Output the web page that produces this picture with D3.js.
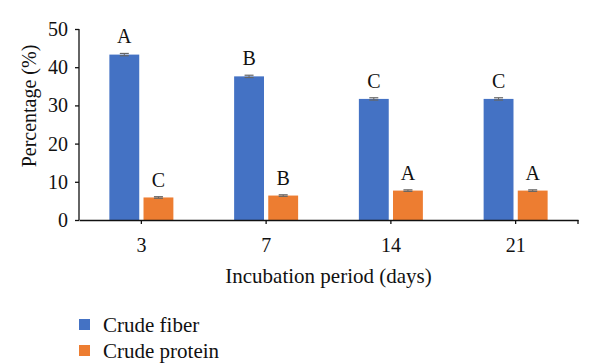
<!DOCTYPE html>
<html>
<head>
<meta charset="utf-8">
<script src="https://cdn.jsdelivr.net/npm/d3@7"></script>
<style>
  body { margin: 0; background: #fff; }
  text { font-family: "Liberation Serif", "Times New Roman", serif; fill: #111; }
</style>
</head>
<body>
<script>
const days = ["3", "7", "14", "21"];
const series = ["Crude fiber", "Crude protein"];
const fiber = [43.3, 37.6, 31.7, 31.7];
const protein = [5.9, 6.4, 7.7, 7.7];
const fiberErr = [0.3, 0.3, 0.3, 0.3];
const proteinErr = [0.2, 0.2, 0.2, 0.2];
const fiberLetters = ["A", "B", "C", "C"];
const proteinLetters = ["C", "B", "A", "A"];
const yTicks = [0, 10, 20, 30, 40, 50];

const colors = ["#4472C4", "#ED7D31"];

const width = 600, height = 364;
const margin = {left: 79, right: 22, top: 29, bottom: 144};

const svg = d3.select("body").append("svg")
    .attr("width", width)
    .attr("height", height);

const x = d3.scaleBand()
    .domain(days)
    .range([margin.left, width - margin.right]);

const inner = d3.scaleBand()
    .domain(series)
    .range([-32, 32])
    .paddingInner(0.125);

const y = d3.scaleLinear()
    .domain([0, 50])
    .range([height - margin.bottom, margin.top]);

const rows = days.map((d, i) => ({
    day: d,
    values: [
        {s: series[0], v: fiber[i], e: fiberErr[i], l: fiberLetters[i], c: colors[0]},
        {s: series[1], v: protein[i], e: proteinErr[i], l: proteinLetters[i], c: colors[1]}
    ]
}));

const groups = svg.selectAll(".group")
    .data(rows)
    .enter().append("g")
    .attr("transform", d => "translate(" + (x(d.day) + x.bandwidth() / 2) + ",0)");

const bars = groups.selectAll(".bar")
    .data(d => d.values)
    .enter().append("g");

bars.append("rect")
    .attr("x", d => inner(d.s))
    .attr("width", inner.bandwidth())
    .attr("y", d => y(d.v))
    .attr("height", d => y(0) - y(d.v))
    .attr("fill", d => d.c);

// error bars
bars.each(function(d) {
    const g = d3.select(this);
    const cx = inner(d.s) + inner.bandwidth() / 2;
    g.append("line")
        .attr("x1", cx).attr("x2", cx)
        .attr("y1", y(d.v + d.e)).attr("y2", y(d.v - d.e))
        .attr("stroke", "#666").attr("stroke-width", 1);
    [d.v + d.e, d.v - d.e].forEach(v => {
        g.append("line")
            .attr("x1", cx - 4.5).attr("x2", cx + 4.5)
            .attr("y1", y(v)).attr("y2", y(v))
            .attr("stroke", "#666").attr("stroke-width", 1.2);
    });
});

bars.append("text")
    .attr("x", d => inner(d.s) + inner.bandwidth() / 2)
    .attr("y", d => y(d.v + d.e) - 10)
    .attr("text-anchor", "middle")
    .attr("font-size", 20)
    .text(d => d.l);

// y axis
const yAxis = svg.append("g")
    .attr("transform", "translate(" + margin.left + ",0)")
    .call(d3.axisLeft(y).tickValues(yTicks).tickSize(4).tickPadding(7));
yAxis.selectAll("text").attr("font-size", 20).style("font-family", "Liberation Serif, serif").attr("fill", "#111");
yAxis.selectAll("line, path").attr("stroke", "#111").attr("stroke-width", 1.3);
yAxis.select(".domain").attr("d", "M0," + y(50) + "V" + y(0));

// x axis
const xAxis = svg.append("g")
    .attr("transform", "translate(0," + y(0) + ")")
    .call(d3.axisBottom(x).tickSize(4).tickPadding(14).tickSizeOuter(0));
xAxis.selectAll("text").attr("font-size", 20).style("font-family", "Liberation Serif, serif").attr("fill", "#111");
xAxis.selectAll("line, path").attr("stroke", "#111").attr("stroke-width", 1.3);
xAxis.append("line")
    .attr("x1", width - margin.right).attr("x2", width - margin.right)
    .attr("y1", 0).attr("y2", 4)
    .attr("stroke", "#111").attr("stroke-width", 1.3);

svg.append("text")
    .attr("x", (margin.left + width - margin.right) / 2)
    .attr("y", 283)
    .attr("text-anchor", "middle")
    .attr("font-size", 21)
    .text("Incubation period (days)");

svg.append("text")
    .attr("transform", "translate(36,106) rotate(-90)")
    .attr("text-anchor", "middle")
    .attr("font-size", 20)
    .text("Percentage (%)");

// legend
const legend = svg.selectAll(".legend")
    .data(series)
    .enter().append("g")
    .attr("transform", (d, i) => "translate(79," + (319 + i * 26) + ")");

legend.append("rect")
    .attr("width", 11).attr("height", 11)
    .attr("fill", (d, i) => colors[i]);

legend.append("text")
    .attr("x", 24)
    .attr("y", 12.5)
    .attr("font-size", 21)
    .text(d => d);
</script>
</body>
</html>
